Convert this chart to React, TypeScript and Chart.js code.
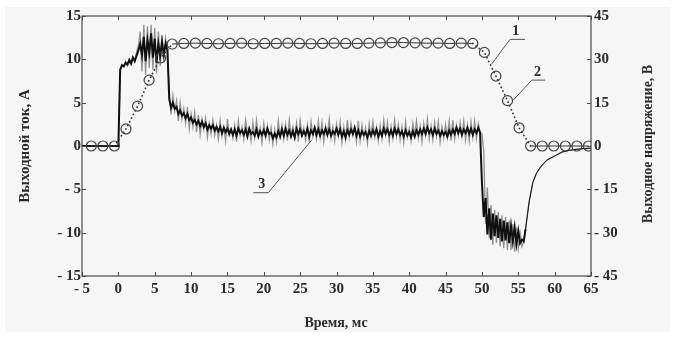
import { useEffect, useRef } from "react";
import { Chart, registerables } from "chart.js";
Chart.register(...registerables);

// Voltage (right axis, V) – measured points (circles)
const tV = [-3.72, -2.13, -0.54, 1.05, 2.64, 4.23, 5.82, 7.41, 9.0, 10.59, 12.18, 13.77, 15.36, 16.95, 18.54, 20.13, 21.72, 23.31, 24.9, 26.49, 28.08, 29.67, 31.26, 32.85, 34.44, 36.03, 37.62, 39.21, 40.8, 42.39, 43.98, 45.57, 47.16, 48.75, 50.34, 51.93, 53.52, 55.11, 56.7, 58.29, 59.88, 61.47, 63.06, 64.65];
const voltage = [0, 0, 0, 5.9, 13.8, 22.8, 30.5, 35.3, 35.5, 35.6, 35.5, 35.4, 35.5, 35.6, 35.4, 35.5, 35.5, 35.6, 35.5, 35.4, 35.5, 35.6, 35.5, 35.5, 35.6, 35.7, 35.8, 35.8, 35.7, 35.6, 35.6, 35.5, 35.6, 35.5, 32.4, 24.2, 15.7, 6.3, 0, 0, 0, 0, 0, 0];

// Current (left axis, A)
const tI = [-5,
  0, 0.25, 0.5, 0.75, 1, 1.25, 1.5, 1.75, 2, 2.25, 2.5, 2.75, 3, 3.25, 3.5, 3.75, 4, 4.25, 4.5, 4.75,
  5, 5.25, 5.5, 5.75, 6, 6.25, 6.5, 6.75, 7, 7.25, 7.5, 7.75, 8, 8.25, 8.5, 8.75, 9, 9.25, 9.5, 9.75,
  10, 10.25, 10.5, 10.75, 11, 11.25, 11.5, 11.75, 12, 12.25, 12.5, 12.75, 13, 13.25, 13.5, 13.75, 14, 14.25, 14.5, 14.75,
  15, 15.25, 15.5, 15.75, 16, 16.25, 16.5, 16.75, 17, 17.25, 17.5, 17.75, 18, 18.25, 18.5, 18.75, 19, 19.25, 19.5, 19.75,
  20, 20.25, 20.5, 20.75, 21, 21.25, 21.5, 21.75, 22, 22.25, 22.5, 22.75, 23, 23.25, 23.5, 23.75, 24, 24.25, 24.5, 24.75,
  25, 25.25, 25.5, 25.75, 26, 26.25, 26.5, 26.75, 27, 27.25, 27.5, 27.75, 28, 28.25, 28.5, 28.75, 29, 29.25, 29.5, 29.75,
  30, 30.25, 30.5, 30.75, 31, 31.25, 31.5, 31.75, 32, 32.25, 32.5, 32.75, 33, 33.25, 33.5, 33.75, 34, 34.25, 34.5, 34.75,
  35, 35.25, 35.5, 35.75, 36, 36.25, 36.5, 36.75, 37, 37.25, 37.5, 37.75, 38, 38.25, 38.5, 38.75, 39, 39.25, 39.5, 39.75,
  40, 40.25, 40.5, 40.75, 41, 41.25, 41.5, 41.75, 42, 42.25, 42.5, 42.75, 43, 43.25, 43.5, 43.75, 44, 44.25, 44.5, 44.75,
  45, 45.25, 45.5, 45.75, 46, 46.25, 46.5, 46.75, 47, 47.25, 47.5, 47.75, 48, 48.25, 48.5, 48.75, 49, 49.25, 49.5, 49.75,
  50, 50.25, 50.5, 50.75, 51, 51.25, 51.5, 51.75, 52, 52.25, 52.5, 52.75, 53, 53.25, 53.5, 53.75, 54, 54.25, 54.5, 54.75,
  55, 55.25, 55.5, 55.75, 56,
  56.5, 57, 57.5, 58, 58.5, 59, 60, 61, 62, 63, 64, 65];

const currentBlack = [0,
  0, 8.8, 9.3, 9.2, 9.6, 9.4, 9.9, 9.5, 10.2, 9.8, 10.4, 11.0, 11.8, 10.5, 12.6, 9.8, 12.2, 10.8, 13.0, 10.2,
  12.4, 9.6, 11.8, 10.4, 12.0, 10.6, 11.8, 11.0,
  5.4, 4.4, 5.0, 4.3, 4.5, 3.7, 4.1, 3.5, 3.8, 3.2, 3.7, 3.0,
  3.3, 2.7, 3.0, 2.5, 2.9, 2.3, 2.8, 2.2, 2.6, 1.9, 2.4, 2.0, 2.4, 1.8, 2.2, 1.7, 2.2, 1.5, 2.1, 1.6,
  2.0, 1.4, 1.9, 1.3, 1.9, 1.2, 2.0, 1.5, 1.8, 1.3, 1.9, 1.1, 2.0, 1.4, 1.6, 1.2, 1.9, 1.1, 1.7, 1.3,
  1.8, 1.2, 2.0, 1.4, 1.5, 0.9, 1.4, 1.0, 1.7, 1.1, 1.9, 1.2, 2.0, 1.3, 1.8, 1.1, 1.7, 1.0, 2.0, 1.4,
  1.9, 1.2, 1.7, 1.3, 2.0, 1.1, 1.8, 1.4, 2.1, 1.3, 1.9, 1.2, 1.8, 1.4, 2.0, 1.3, 1.9, 1.2, 1.7, 1.4,
  2.0, 1.3, 1.9, 1.1, 1.7, 1.0, 1.8, 1.3, 1.9, 1.4, 2.1, 1.2, 1.8, 1.1, 1.7, 1.3, 1.6, 1.0, 1.7, 1.2,
  1.8, 1.3, 1.9, 1.1, 1.7, 1.2, 2.0, 1.4, 1.9, 1.3, 1.8, 1.2, 2.0, 1.4, 1.9, 1.3, 1.7, 1.1, 1.8, 1.2,
  1.6, 1.0, 1.7, 1.1, 1.8, 1.3, 1.9, 1.4, 2.0, 1.4, 2.1, 1.5, 1.9, 1.3, 2.0, 1.4, 1.8, 1.2, 1.7, 1.3,
  1.6, 1.1, 1.8, 1.3, 1.9, 1.4, 2.1, 1.5, 2.0, 1.3, 1.9, 1.5, 2.1, 1.4, 2.0, 1.3, 1.9, 1.5, 2.1, 1.5,
  -4.2, -8.2, -6.0, -10.2, -7.2, -10.8, -7.8, -10.4, -8.0, -10.6, -8.4, -11.0, -8.6, -10.9, -8.8, -11.2, -9.2, -11.0, -9.4, -11.3,
  -9.8, -11.2, -10.8, -11.0, -9.6,
  -6.4, -4.2, -3.15, -2.5, -2.0, -1.6, -1.15, -0.7, -0.5, -0.38, -0.3, -0.25];

const currentGray = [0,
  0, 8.8, 9.4, 9.1, 9.8, 9.3, 10.1, 9.6, 10.3, 9.7, 10.8, 11.6, 13.2, 8.6, 14.0, 8.2, 13.8, 9.0, 14.0, 8.8,
  13.6, 8.4, 13.2, 9.2, 12.8, 9.6, 12.4, 10.8,
  6.4, 3.6, 5.8, 4.0, 5.2, 2.9, 5.0, 3.1, 4.3, 2.6, 4.5, 2.0,
  3.7, 2.2, 3.9, 1.6, 3.6, 1.3, 3.1, 1.9, 3.2, 1.0, 2.6, 1.4, 3.0, 1.2, 2.4, 0.8, 2.9, 1.1, 2.2, 0.6,
  3.1, 1.3, 2.0, 0.9, 2.4, 0.5, 2.9, 1.2, 2.2, 0.8, 3.0, 1.4, 2.0, 0.6, 2.7, 1.0, 3.0, 1.2, 2.1, 0.4,
  2.6, 1.0, 2.3, 0.7, 2.1, 0.2, 1.9, 0.5, 2.9, 1.1, 2.4, 0.8, 2.5, 0.6, 3.0, 1.2, 2.2, 0.9, 2.6, 0.5,
  3.0, 1.3, 2.1, 0.7, 2.4, 0.4, 2.8, 1.1, 2.0, 0.8, 2.9, 1.0, 2.7, 0.5, 2.3, 1.2, 3.1, 0.9, 2.2, 0.6,
  2.5, 1.1, 2.8, 0.4, 2.2, 0.7, 3.0, 1.0, 2.6, 1.2, 2.1, 0.5, 2.9, 0.6, 2.4, 0.9, 2.1, 0.3, 2.6, 1.1,
  2.8, 1.0, 2.2, 0.6, 2.4, 0.8, 3.0, 1.3, 2.7, 0.5, 2.3, 0.9, 3.0, 1.1, 2.5, 0.7, 2.2, 0.4, 2.8, 1.0,
  2.0, 0.6, 2.6, 1.2, 2.9, 0.9, 2.3, 0.5, 2.6, 1.2, 3.1, 0.8, 2.3, 0.7, 2.7, 1.1, 2.8, 0.5, 2.2, 0.9,
  2.5, 1.0, 2.9, 0.6, 3.0, 0.8, 2.4, 1.2, 2.7, 1.1, 2.9, 0.7, 2.4, 0.6, 2.8, 1.0, 2.9, 0.9, 2.6, 1.6,
  1.4, -0.5, -9.0, -4.8, -10.6, -6.8, -11.4, -7.4, -11.2, -7.6, -11.6, -8.0, -11.8, -8.2, -12.0, -8.6, -12.0, -9.0, -12.2, -9.4,
  -11.8, -10.0, -11.6, -11.0, -9.6,
  -6.4, -4.2, -3.15, -2.5, -2.0, -1.6, -1.15, -0.7, -0.5, -0.38, -0.3, -0.25];

// Annotation callouts: text, axis, text position, leader start, leader end, underline end x
const annText = ["1", "2", "3"];
const annAxis = ["y2", "y2", "y"];
const annTextPos = [[54.65, 39.8], [57.65, 25.6], [19.71, -4.4]];
const annLineStart = [[53.86, 36.9], [56.85, 22.8], [20.62, -5.39]];
const annLineEnd = [[51.35, 28.4], [54.32, 15.9], [26.59, 0.69]];
const annUnderlineEnd = [55.93, 58.68, 18.56];

const xTitle = "Время, мс";
const yTitle = "Выходной ток, А";
const y2Title = "Выходное напряжение, В";

const FONT = '"Liberation Serif", "DejaVu Serif", serif';
const fmt = (v: number) => (v < 0 ? "- " + Math.abs(v) : String(v));

const framePlugin = {
  id: "frame",
  beforeDraw(chart: any) {
    const { ctx, width, height } = chart;
    ctx.save();
    ctx.fillStyle = "#ffffff";
    ctx.fillRect(0, 0, width, height);
    ctx.fillStyle = "#f6f6f6";
    ctx.fillRect(5, 7, 665, 325);
    ctx.restore();
  },
  afterDraw(chart: any) {
    const { ctx, chartArea: a, scales } = chart;
    ctx.save();
    ctx.strokeStyle = "#4a4a4a";
    ctx.lineWidth = 1.2;
    ctx.strokeRect(a.left, a.top, a.right - a.left, a.bottom - a.top);
    ctx.lineWidth = 1;
    ctx.beginPath();
    scales.x.ticks.forEach((t: any) => {
      const px = Math.round(scales.x.getPixelForValue(t.value)) + 0.5;
      ctx.moveTo(px, a.bottom);
      ctx.lineTo(px, a.bottom - 4);
      ctx.moveTo(px, a.top);
      ctx.lineTo(px, a.top + 4);
    });
    scales.y.ticks.forEach((t: any) => {
      const py = Math.round(scales.y.getPixelForValue(t.value)) + 0.5;
      ctx.moveTo(a.left, py);
      ctx.lineTo(a.left + 4, py);
    });
    scales.y2.ticks.forEach((t: any) => {
      const py = Math.round(scales.y2.getPixelForValue(t.value)) + 0.5;
      ctx.moveTo(a.right, py);
      ctx.lineTo(a.right - 4, py);
    });
    ctx.stroke();

    // titles
    ctx.fillStyle = "#2a2a2a";
    ctx.textAlign = "center";
    ctx.textBaseline = "middle";
    ctx.font = "bold 14px " + FONT;
    ctx.fillText(xTitle, 336, 323);
    ctx.save();
    ctx.translate(25, 146);
    ctx.rotate(-Math.PI / 2);
    ctx.font = "bold 15px " + FONT;
    ctx.fillText(yTitle, 0, 0);
    ctx.restore();
    ctx.save();
    ctx.translate(648, 144);
    ctx.rotate(-Math.PI / 2);
    ctx.font = "bold 14px " + FONT;
    ctx.fillText(y2Title, 0, 0);
    ctx.restore();

    // callouts
    ctx.strokeStyle = "#555";
    ctx.lineWidth = 1;
    ctx.font = "bold 14px " + FONT;
    annText.forEach((txt, i) => {
      const ys = scales[annAxis[i]];
      const sx = scales.x.getPixelForValue(annLineStart[i][0]);
      const sy = ys.getPixelForValue(annLineStart[i][1]);
      const ex = scales.x.getPixelForValue(annLineEnd[i][0]);
      const ey = ys.getPixelForValue(annLineEnd[i][1]);
      const ux = scales.x.getPixelForValue(annUnderlineEnd[i]);
      ctx.beginPath();
      ctx.moveTo(ex, ey);
      ctx.lineTo(sx, sy);
      ctx.lineTo(ux, sy);
      ctx.stroke();
      ctx.fillText(txt, scales.x.getPixelForValue(annTextPos[i][0]), ys.getPixelForValue(annTextPos[i][1]));
    });
    ctx.restore();
  },
};

export default function App() {
  const ref = useRef<HTMLCanvasElement | null>(null);
  useEffect(() => {
    if (!ref.current) return;
    const tickFont = { family: FONT, size: 15, weight: "bold" as const };
    const chart = new Chart(ref.current, {
      type: "scatter",
      data: {
        datasets: [
          {
            label: "U",
            data: tV.map((t, i) => ({ x: t, y: voltage[i] })),
            yAxisID: "y2",
            showLine: true,
            order: 0,
            borderColor: "#333",
            borderWidth: 1,
            borderCapStyle: "round",
            pointRadius: 5,
            pointBorderWidth: 1.2,
            pointBorderColor: "#444",
            pointBackgroundColor: "rgba(0,0,0,0)",
            segment: {
              borderDash: (c: any) => (Math.abs(c.p0.parsed.y - c.p1.parsed.y) > 1 ? [0.1, 4] : undefined),
              borderWidth: (c: any) => (Math.abs(c.p0.parsed.y - c.p1.parsed.y) > 1 ? 1.8 : 1),
            },
          } as any,
          {
            label: "I black",
            data: tI.map((t, i) => ({ x: t, y: currentBlack[i] })),
            yAxisID: "y",
            showLine: true,
            order: 1,
            borderColor: "#111",
            borderWidth: 2,
            pointRadius: 0,
            segment: {
              borderWidth: (c: any) => (c.p0.parsed.x >= 56 ? 1 : 2),
            },
          } as any,
          {
            label: "I gray",
            data: tI.map((t, i) => ({ x: t, y: currentGray[i] })),
            yAxisID: "y",
            showLine: true,
            order: 2,
            borderColor: "#909090",
            borderWidth: 1.3,
            pointRadius: 0,
          },
        ],
      },
      options: {
        responsive: false,
        animation: false,
        devicePixelRatio: 1,
        layout: { padding: { top: 16, left: 0, right: 0, bottom: 0 } },
        plugins: { legend: { display: false }, tooltip: { enabled: false } },
        scales: {
          x: {
            type: "linear",
            min: -5,
            max: 65,
            grid: { display: false, drawTicks: false },
            border: { display: false },
            ticks: { stepSize: 5, autoSkip: false, maxRotation: 0, font: tickFont, color: "#2a2a2a", padding: 4, callback: (v: any) => fmt(Number(v)) },
            afterFit: (s: any) => { s.height = 76; },
          },
          y: {
            type: "linear",
            position: "left",
            min: -15,
            max: 15,
            grid: { display: false, drawTicks: false },
            border: { display: false },
            ticks: { stepSize: 5, font: tickFont, color: "#2a2a2a", padding: 1, callback: (v: any) => fmt(Number(v)) },
            afterFit: (s: any) => { s.width = 82; },
          },
          y2: {
            type: "linear",
            position: "right",
            min: -45,
            max: 45,
            grid: { display: false, drawTicks: false },
            border: { display: false },
            ticks: { stepSize: 15, font: tickFont, color: "#2a2a2a", padding: 3, callback: (v: any) => fmt(Number(v)) },
            afterFit: (s: any) => { s.width = 107; },
          },
        },
      },
      plugins: [framePlugin],
    });
    return () => chart.destroy();
  }, []);
  return (
    <div style={{ position: "absolute", left: 0, top: 0, width: 698, height: 352 }}>
      <canvas ref={ref} width={698} height={352} style={{ display: "block" }} />
    </div>
  );
}
